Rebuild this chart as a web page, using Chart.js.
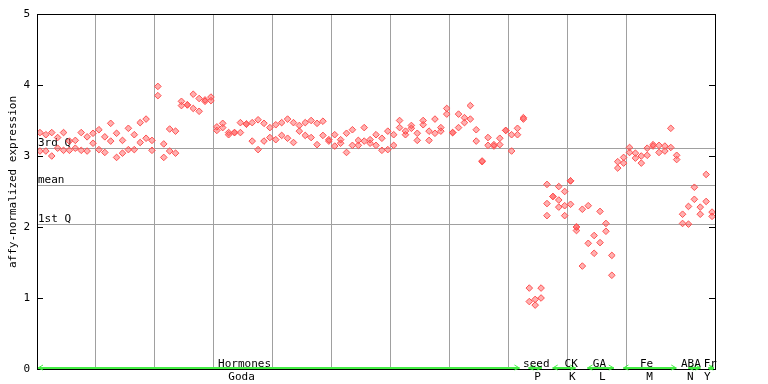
<!DOCTYPE html>
<html>
<head>
<meta charset="UTF-8">
<title>affy-normalized expression</title>
<script src="https://cdn.jsdelivr.net/npm/chart.js"></script>
<style>
  html, body { margin: 0; padding: 0; background: #fff; }
  #wrap { width: 768px; height: 384px; }
</style>
</head>
<body>
<div id="wrap"><canvas id="chartCanvas"></canvas></div>
<script>
// two (sometimes three) replicates per sample, sample i sits at x = i + 0.5
const rep1 = [
  3.33, 3.30, 3.33, 3.26, 3.33, 3.21, 3.22, 3.33, 3.27, 3.32,
  3.37, 3.27, 3.46, 3.32, 3.22, 3.39, 3.30, 3.47, 3.52, 3.22,
  3.98, 3.17, 3.38, 3.35, 3.77, 3.72, 3.87, 3.81, 3.79, 3.83,
  3.41, 3.46, 3.33, 3.33, 3.47, 3.45, 3.47, 3.51, 3.46, 3.40,
  3.44, 3.47, 3.52, 3.47, 3.43, 3.47, 3.50, 3.46, 3.49, 3.23,
  3.30, 3.23, 3.32, 3.37, 3.22, 3.40, 3.23, 3.30, 3.25, 3.35,
  3.30, 3.50, 3.35, 3.43, 3.32, 3.50, 3.35, 3.52, 3.40, 3.67,
  3.33, 3.59, 3.54, 3.71, 3.37, 2.93, 3.26, 3.16, 3.25, 3.36,
  3.30, 3.39, 3.54, 1.14, 0.98, 1.14, 2.60, 2.43, 2.57, 2.50,
  2.65, 2.00, 2.25, 2.30, 1.88, 2.22, 2.05, 1.60, 2.92, 2.98,
  3.12, 3.04, 3.00, 3.11, 3.16, 3.15, 3.14, 3.39, 3.01, 2.18,
  2.29, 2.56, 2.28, 2.74, 2.21
];
const rep2 = [
  3.07, 3.07, 3.00, 3.11, 3.08, 3.08, 3.11, 3.08, 3.07, 3.18,
  3.09, 3.05, 3.21, 2.98, 3.04, 3.09, 3.09, 3.19, 3.25, 3.08,
  3.85, 2.98, 3.07, 3.04, 3.71, 3.72, 3.67, 3.63, 3.77, 3.78,
  3.36, 3.40, 3.30, 3.33, 3.33, 3.45, 3.21, 3.09, 3.21, 3.26,
  3.23, 3.29, 3.25, 3.19, 3.35, 3.29, 3.26, 3.16, 3.29, 3.21,
  3.14, 3.18, 3.05, 3.15, 3.15, 3.21, 3.18, 3.15, 3.08, 3.09,
  3.15, 3.40, 3.30, 3.39, 3.22, 3.44, 3.22, 3.32, 3.35, 3.59,
  3.33, 3.40, 3.47, 3.52, 3.21, 2.92, 3.15, 3.14, 3.16, 3.36,
  3.07, 3.30, 3.52, 0.95, 0.90, 1.00, 2.33, 2.43, 2.38, 2.30,
  2.65, 2.00, 1.45, 1.77, 1.63, 1.78, 1.94, 1.32, 2.83, 2.90,
  3.05, 2.97, 2.90, 3.01, 3.14, 3.05, 3.07, 3.12, 2.95, 2.05,
  2.04, 2.39, 2.18, 2.36, 2.15
];
// third replicate only where it exists
const rep3Samples = [86, 88, 89, 90, 91];
const rep3Values = [2.16, 2.28, 2.16, 2.32, 1.95];

const groupNames = ["Hormones", "seed", "CK", "GA", "Fe", "ABA", "Fr"];
const groupCodes = ["Goda", "P", "K", "L", "M", "N", "Y"];
const groupStart = [0, 83.2, 87.3, 93.2, 99.3, 110.3, 113.7];
const groupEnd = [82, 85.8, 91.5, 98, 108.6, 112.7, 115];
const nameAt = [35.2, 84.7, 90.6, 95.4, 103.4, 110.9, 114.2];
const codeAt = [34.7, 84.9, 90.8, 95.9, 103.9, 110.8, 113.7];

const refNames = ["3rd Q", "mean", "1st Q"];
const refValues = [3.108, 2.59, 2.04];
const yTicks = [0, 1, 2, 3, 4, 5];

const FONT = "11px 'DejaVu Sans Mono', monospace";
const RED = "#ff5050";

function toPoints(values) {
  return values.map((v, i) => ({ x: i + 0.5, y: v }));
}

const extras = {
  id: "extras",
  beforeDatasetsDraw(chart) {
    const ctx = chart.ctx;
    const a = chart.chartArea;
    const y = chart.scales.y;
    ctx.save();
    ctx.strokeStyle = "#a0a0a0";
    ctx.lineWidth = 1;
    ctx.font = FONT;
    ctx.fillStyle = "#000";
    ctx.textAlign = "left";
    ctx.textBaseline = "alphabetic";
    refValues.forEach((v, i) => {
      const py = Math.round(y.getPixelForValue(v)) + 0.5;
      ctx.beginPath();
      ctx.moveTo(a.left, py);
      ctx.lineTo(a.right, py);
      ctx.stroke();
      ctx.fillText(refNames[i], a.left + 1, py - 2.5);
    });
    ctx.restore();
  },
  afterDraw(chart) {
    const ctx = chart.ctx;
    const a = chart.chartArea;
    const x = chart.scales.x;
    const y = chart.scales.y;
    ctx.save();

    // frame
    ctx.strokeStyle = "#000";
    ctx.lineWidth = 1;
    ctx.strokeRect(a.left + 0.5, a.top + 0.5, a.right - a.left, a.bottom - a.top);

    // inward tick marks on both sides
    yTicks.forEach(t => {
      const py = Math.round(y.getPixelForValue(t)) + 0.5;
      ctx.beginPath();
      ctx.moveTo(a.left, py); ctx.lineTo(a.left + 6, py);
      ctx.moveTo(a.right - 6, py); ctx.lineTo(a.right, py);
      ctx.stroke();
    });

    // green group arrows along the bottom
    const gy = y.getPixelForValue(0) - 1;
    ctx.strokeStyle = "#44ee44";
    ctx.lineWidth = 2;
    groupStart.forEach((s, i) => {
      const x0 = x.getPixelForValue(s) + 1;
      const x1 = x.getPixelForValue(groupEnd[i]) - 1;
      ctx.beginPath();
      ctx.moveTo(x0, gy); ctx.lineTo(x1, gy);
      ctx.stroke();
      ctx.lineWidth = 1;
      ctx.beginPath();
      ctx.moveTo(x0 + 5, gy - 3); ctx.lineTo(x0, gy); ctx.lineTo(x0 + 5, gy + 2);
      ctx.moveTo(x1 - 5, gy - 3); ctx.lineTo(x1, gy); ctx.lineTo(x1 - 5, gy + 2);
      ctx.stroke();
      ctx.lineWidth = 2;
    });

    // group labels
    ctx.fillStyle = "#000";
    ctx.font = FONT;
    ctx.textAlign = "center";
    ctx.textBaseline = "alphabetic";
    groupNames.forEach((n, i) => {
      ctx.fillText(n, x.getPixelForValue(nameAt[i]), a.bottom - 2);
      ctx.fillText(groupCodes[i], x.getPixelForValue(codeAt[i]), a.bottom + 11);
    });

    // y axis title
    ctx.translate(16, 182);
    ctx.rotate(-Math.PI / 2);
    ctx.textAlign = "center";
    ctx.fillText("affy-normalized expression", 0, 0);
    ctx.restore();
  }
};

const pointStyle = {
  showLine: false,
  pointStyle: "rectRot",
  pointRadius: 3.3,
  borderColor: RED,
  backgroundColor: "rgba(255,80,80,0.45)",
  pointBorderWidth: 1
};

new Chart(document.getElementById("chartCanvas"), {
  type: "scatter",
  data: {
    datasets: [
      Object.assign({ label: "rep1", data: toPoints(rep1) }, pointStyle),
      Object.assign({ label: "rep2", data: toPoints(rep2) }, pointStyle),
      Object.assign({ label: "rep3", data: rep3Samples.map((s, i) => ({ x: s + 0.5, y: rep3Values[i] })) }, pointStyle)
    ]
  },
  options: {
    responsive: true,
    maintainAspectRatio: false,
    animation: false,
    events: [],
    layout: { padding: { left: 0, top: 14, right: 53, bottom: 0 } },
    plugins: { legend: { display: false }, tooltip: { enabled: false } },
    scales: {
      x: {
        type: "linear",
        min: 0,
        max: 115,
        ticks: { display: false, stepSize: 10 },
        grid: { color: "#a0a0a0", lineWidth: 1, drawTicks: false },
        border: { display: false },
        afterFit(s) { s.height = 15; }
      },
      y: {
        min: 0,
        max: 5,
        afterBuildTicks(s) { s.ticks = yTicks.map(v => ({ value: v })); },
        ticks: {
          color: "#000",
          font: { family: "'DejaVu Sans Mono', monospace", size: 11 },
          padding: 7
        },
        grid: { display: false, drawTicks: false },
        border: { display: false },
        afterFit(s) { s.width = 37; }
      }
    }
  },
  plugins: [extras]
});
</script>
</body>
</html>
